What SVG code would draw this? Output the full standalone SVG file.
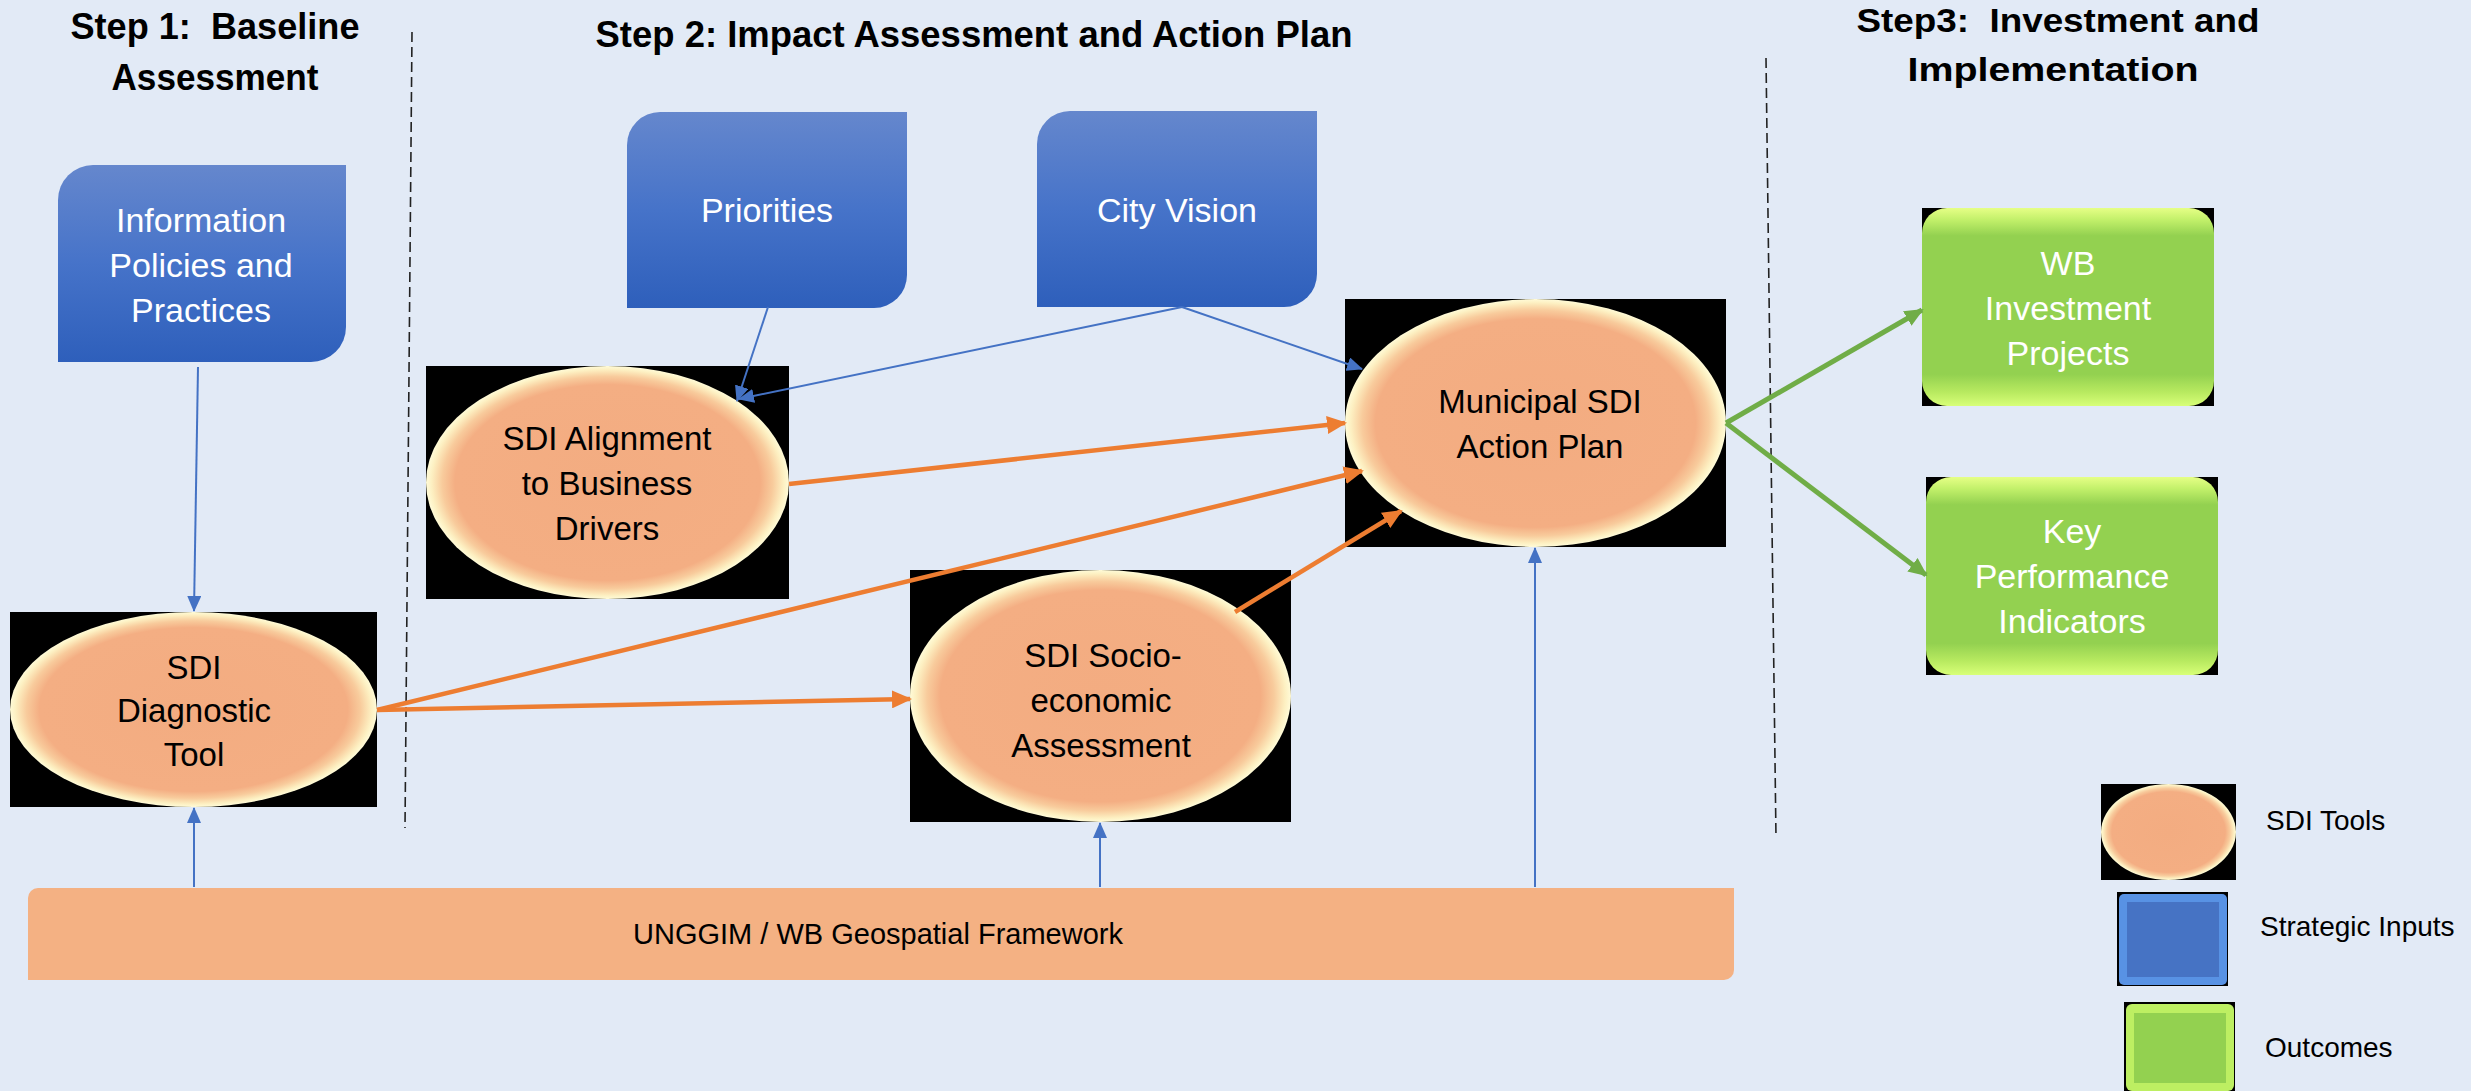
<svg xmlns="http://www.w3.org/2000/svg" width="2471" height="1091" viewBox="0 0 2471 1091">
<style>
.title{font-family:"Liberation Sans",Arial,sans-serif;font-weight:bold;fill:#000;white-space:pre}
.lbl{font-family:"Liberation Sans",Arial,sans-serif;font-size:33px;fill:#000;text-anchor:middle}
.wlbl{font-family:"Liberation Sans",Arial,sans-serif;font-size:34px;fill:#fff;text-anchor:middle}
.leg{font-family:"Liberation Sans",Arial,sans-serif;font-size:28px;fill:#000}
.blue{stroke:#4472C4;stroke-width:2;fill:none}
.orange{stroke:#ED7D31;stroke-width:4.5;fill:none}
.green{stroke:#70AD47;stroke-width:5;fill:none}
.dash{stroke:#222;stroke-width:1.6;stroke-dasharray:10 5;fill:none}
</style>
<defs>
<linearGradient id="gBlue" x1="0" y1="0" x2="0" y2="1">
<stop offset="0" stop-color="#6587CD"/>
<stop offset="0.5" stop-color="#4673C9"/>
<stop offset="1" stop-color="#2E5FBB"/>
</linearGradient>
<radialGradient id="gEll" cx="0.5" cy="0.5" r="0.5">
<stop offset="0" stop-color="#F3AC81"/>
<stop offset="0.84" stop-color="#F4AE83"/>
<stop offset="0.91" stop-color="#F8CB9C"/>
<stop offset="0.97" stop-color="#FDF0C2"/>
<stop offset="1" stop-color="#FFFBD8"/>
</radialGradient>
<linearGradient id="gGreen" x1="0" y1="0" x2="0" y2="1">
<stop offset="0" stop-color="#E6FF86"/>
<stop offset="0.06" stop-color="#C2F06A"/>
<stop offset="0.14" stop-color="#93D150"/>
<stop offset="0.84" stop-color="#93D150"/>
<stop offset="0.93" stop-color="#B8EA60"/>
<stop offset="1" stop-color="#D8FF78"/>
</linearGradient>
<marker id="ab" markerUnits="userSpaceOnUse" markerWidth="16" markerHeight="14" refX="15" refY="7" orient="auto"><path d="M0,0 L16,7 L0,14 z" fill="#4472C4"/></marker>
<marker id="ao" markerUnits="userSpaceOnUse" markerWidth="20" markerHeight="18" refX="18" refY="9" orient="auto"><path d="M0,0 L20,9 L0,18 z" fill="#ED7D31"/></marker>
<marker id="ag" markerUnits="userSpaceOnUse" markerWidth="19" markerHeight="17" refX="17" refY="8.5" orient="auto"><path d="M0,0 L19,8.5 L0,17 z" fill="#70AD47"/></marker>
</defs>
<rect x="0" y="0" width="2471" height="1091" fill="#E2EAF6"/>

<g id="titles">
<text class="title" x="215" y="39" font-size="36" text-anchor="middle" textLength="289" lengthAdjust="spacingAndGlyphs">Step 1:  Baseline</text>
<text class="title" x="215" y="90" font-size="36" text-anchor="middle" textLength="207" lengthAdjust="spacingAndGlyphs">Assessment</text>
<text class="title" x="974" y="47" font-size="37" text-anchor="middle" textLength="757" lengthAdjust="spacingAndGlyphs">Step 2: Impact Assessment and Action Plan</text>
<text class="title" x="2058" y="32" font-size="34" text-anchor="middle" textLength="403" lengthAdjust="spacingAndGlyphs">Step3:  Investment and</text>
<text class="title" x="2053" y="81" font-size="34" text-anchor="middle" textLength="291" lengthAdjust="spacingAndGlyphs">Implementation</text>
</g>

<g id="dividers">
<line class="dash" x1="412" y1="32" x2="405" y2="828"/>
<line class="dash" x1="1766" y1="58" x2="1776" y2="838"/>
</g>

<g id="framework">
<path d="M38 888 H1734 V970 A10 10 0 0 1 1724 980 H28 V898 A10 10 0 0 1 38 888 Z" fill="#F4B183"/>
<text x="878" y="944" font-family="Liberation Sans, Arial, sans-serif" font-size="29" text-anchor="middle" fill="#000">UNGGIM / WB Geospatial Framework</text>
</g>

<g id="node-info">
<path d="M93 165 H346 V327 A35 35 0 0 1 311 362 H58 V200 A35 35 0 0 1 93 165 Z" fill="url(#gBlue)"/>
<text class="wlbl" x="201" y="232">Information</text>
<text class="wlbl" x="201" y="277">Policies and</text>
<text class="wlbl" x="201" y="322">Practices</text>
</g>

<g id="node-priorities">
<path d="M660 112 H907 V275 A33 33 0 0 1 874 308 H627 V145 A33 33 0 0 1 660 112 Z" fill="url(#gBlue)"/>
<text class="wlbl" x="767" y="222">Priorities</text>
</g>

<g id="node-vision">
<path d="M1070 111 H1317 V274 A33 33 0 0 1 1284 307 H1037 V144 A33 33 0 0 1 1070 111 Z" fill="url(#gBlue)"/>
<text class="wlbl" x="1177" y="222">City Vision</text>
</g>

<g id="node-diagnostic">
<rect x="10" y="612" width="367" height="195" fill="#000"/>
<ellipse cx="193.5" cy="709.5" rx="183.5" ry="97.5" fill="url(#gEll)"/>
<text class="lbl" x="194" y="679">SDI</text>
<text class="lbl" x="194" y="722">Diagnostic</text>
<text class="lbl" x="194" y="766">Tool</text>
</g>

<g id="node-alignment">
<rect x="426" y="366" width="363" height="233" fill="#000"/>
<ellipse cx="607.5" cy="482.5" rx="181.5" ry="116.5" fill="url(#gEll)"/>
<text class="lbl" x="607" y="450">SDI Alignment</text>
<text class="lbl" x="607" y="495">to Business</text>
<text class="lbl" x="607" y="540">Drivers</text>
</g>

<g id="node-socio">
<rect x="910" y="570" width="381" height="252" fill="#000"/>
<ellipse cx="1100.5" cy="696" rx="190.5" ry="126" fill="url(#gEll)"/>
<text class="lbl" x="1103" y="667">SDI Socio-</text>
<text class="lbl" x="1101" y="712">economic</text>
<text class="lbl" x="1101" y="757">Assessment</text>
</g>

<g id="node-plan">
<rect x="1345" y="299" width="381" height="248" fill="#000"/>
<ellipse cx="1535.5" cy="423" rx="190.5" ry="124" fill="url(#gEll)"/>
<text class="lbl" x="1540" y="413">Municipal SDI</text>
<text class="lbl" x="1540" y="458">Action Plan</text>
</g>

<g id="node-wb">
<rect x="1922" y="208" width="292" height="198" fill="#000"/>
<rect x="1922" y="208" width="292" height="198" rx="25" fill="url(#gGreen)"/>
<text class="wlbl" x="2068" y="275">WB</text>
<text class="wlbl" x="2068" y="320">Investment</text>
<text class="wlbl" x="2068" y="365">Projects</text>
</g>

<g id="node-kpi">
<rect x="1926" y="477" width="292" height="198" fill="#000"/>
<rect x="1926" y="477" width="292" height="198" rx="25" fill="url(#gGreen)"/>
<text class="wlbl" x="2072" y="543">Key</text>
<text class="wlbl" x="2072" y="588">Performance</text>
<text class="wlbl" x="2072" y="633">Indicators</text>
</g>

<g id="connectors">
<line class="blue" x1="198" y1="367" x2="194" y2="611" marker-end="url(#ab)"/>
<line class="blue" x1="194" y1="887" x2="194" y2="808" marker-end="url(#ab)"/>
<line class="blue" x1="1100" y1="887" x2="1100" y2="823" marker-end="url(#ab)"/>
<line class="blue" x1="1535" y1="887" x2="1535" y2="548" marker-end="url(#ab)"/>
<line class="blue" x1="768" y1="307" x2="737" y2="401" marker-end="url(#ab)"/>
<line class="blue" x1="1182" y1="307" x2="739" y2="399" marker-end="url(#ab)"/>
<line class="blue" x1="1182" y1="307" x2="1362" y2="369" marker-end="url(#ab)"/>
<line class="orange" x1="789" y1="484" x2="1345" y2="423" marker-end="url(#ao)"/>
<line class="orange" x1="377" y1="710" x2="1362" y2="471" marker-end="url(#ao)"/>
<line class="orange" x1="377" y1="710" x2="910" y2="699" marker-end="url(#ao)"/>
<line class="orange" x1="1235" y1="612" x2="1401" y2="511" marker-end="url(#ao)"/>
<line class="green" x1="1726" y1="423" x2="1922" y2="310" marker-end="url(#ag)"/>
<line class="green" x1="1726" y1="423" x2="1926" y2="575" marker-end="url(#ag)"/>
</g>

<g id="legend">
<rect x="2101" y="784" width="135" height="96" fill="#000"/>
<ellipse cx="2168.5" cy="832" rx="67.5" ry="48" fill="url(#gEll)"/>
<text class="leg" x="2266" y="830">SDI Tools</text>
<rect x="2117" y="892" width="111" height="94" fill="#000"/>
<rect x="2119" y="894" width="108" height="91" rx="5" fill="#5892E4"/>
<rect x="2127" y="902" width="92" height="75" fill="#4673C4"/>
<text class="leg" x="2260" y="936">Strategic Inputs</text>
<rect x="2124" y="1002" width="111" height="89" fill="#000"/>
<rect x="2126" y="1004" width="108" height="87" rx="6" fill="#BDEF62"/>
<rect x="2134" y="1013" width="92" height="70" fill="#93D150"/>
<text class="leg" x="2265" y="1057">Outcomes</text>
</g>
</svg>
